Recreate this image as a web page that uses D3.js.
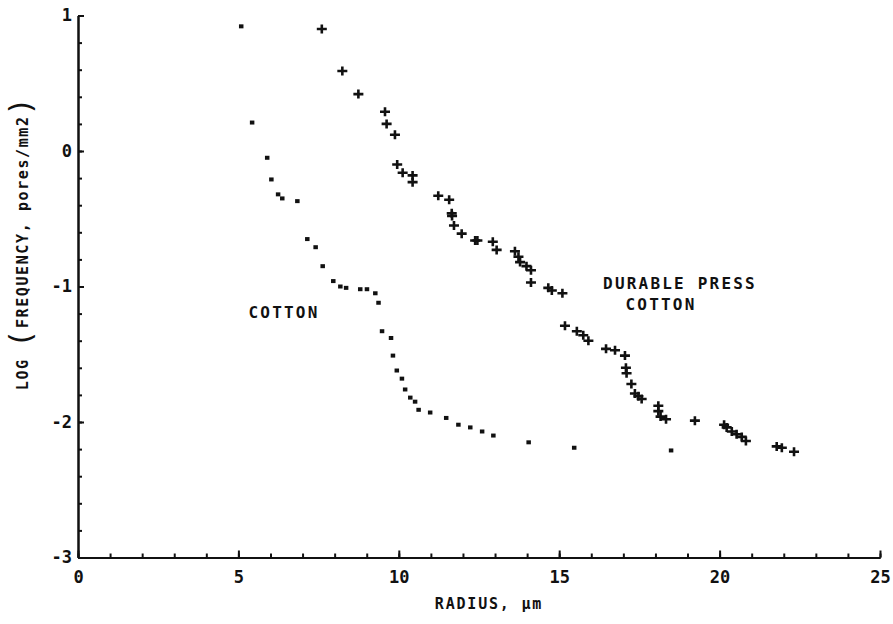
<!DOCTYPE html>
<html>
<head>
<meta charset="utf-8">
<script src="https://cdn.jsdelivr.net/npm/d3@7"></script>
<style>
  html, body { margin: 0; padding: 0; background: #fff; }
  text { font-family: "DejaVu Sans Mono", "Liberation Mono", monospace; fill: #111; }
</style>
</head>
<body>
<div id="chart"></div>
<script>
// data: radius (um) and log frequency
const cottonRadius = [5.08, 5.42, 5.89, 6.02, 6.23, 6.36, 6.83, 7.14, 7.40, 7.62, 7.95, 8.17,
  8.35, 8.79, 9.00, 9.26, 9.36, 9.47, 9.75, 9.81, 9.93, 10.09, 10.19, 10.35, 10.50, 10.61,
  10.97, 11.47, 11.85, 12.22, 12.59, 12.94, 14.04, 15.46, 18.48];
const cottonLogFreq = [0.92, 0.21, -0.05, -0.21, -0.32, -0.35, -0.37, -0.65, -0.71, -0.85, -0.96, -1.00,
  -1.01, -1.02, -1.02, -1.05, -1.12, -1.33, -1.38, -1.51, -1.62, -1.68, -1.76, -1.82, -1.85, -1.91,
  -1.93, -1.97, -2.02, -2.04, -2.07, -2.10, -2.15, -2.19, -2.21];

const dpRadius = [7.60, 8.24, 8.74, 9.57, 9.62, 9.88, 9.95, 10.12, 10.43, 10.43, 11.23, 11.57,
  11.65, 11.66, 11.72, 11.96, 12.38, 12.45, 12.93, 13.05, 13.62, 13.73, 13.78, 13.98, 14.12, 14.12,
  14.66, 14.77, 15.10, 15.18, 15.55, 15.75, 15.91, 16.46, 16.74, 17.05, 17.08, 17.10, 17.25, 17.36,
  17.47, 17.57, 18.09, 18.09, 18.16, 18.33, 19.23, 20.14, 20.22, 20.38, 20.53, 20.69, 20.82, 21.78,
  21.94, 22.32];
const dpLogFreq = [0.90, 0.59, 0.42, 0.29, 0.20, 0.12, -0.10, -0.16, -0.18, -0.23, -0.33, -0.36,
  -0.46, -0.48, -0.55, -0.61, -0.66, -0.66, -0.67, -0.73, -0.74, -0.78, -0.82, -0.85, -0.88, -0.97,
  -1.01, -1.03, -1.05, -1.29, -1.33, -1.36, -1.40, -1.46, -1.47, -1.51, -1.60, -1.64, -1.72, -1.79,
  -1.81, -1.83, -1.88, -1.92, -1.96, -1.98, -1.99, -2.02, -2.04, -2.07, -2.09, -2.11, -2.14, -2.18,
  -2.19, -2.22];

const xTicks = [0, 5, 10, 15, 20, 25];
const yTicks = [1, 0, -1, -2, -3];

const width = 893, height = 624;
const margin = { top: 15.5, right: 13, bottom: 66.5, left: 78 };
const w = width - margin.left - margin.right;
const h = height - margin.top - margin.bottom;

const svg = d3.select("#chart").append("svg")
  .attr("width", width)
  .attr("height", height);

const g = svg.append("g").attr("transform", `translate(${margin.left},${margin.top})`);

const x = d3.scaleLinear().domain([0, 25]).range([0, w]);
const y = d3.scaleLinear().domain([-3, 1]).range([h, 0]);

// minor ticks
g.append("g")
  .attr("transform", `translate(0,${h})`)
  .call(d3.axisBottom(x).tickValues(d3.range(0, 26, 1)).tickSize(-4).tickSizeOuter(0).tickFormat(""));
g.append("g")
  .call(d3.axisLeft(y).tickValues(d3.range(-3, 1.01, 0.2)).tickSize(-4).tickSizeOuter(0).tickFormat(""));

// major ticks and labels
const xAxis = g.append("g")
  .attr("transform", `translate(0,${h})`)
  .call(d3.axisBottom(x).tickValues(xTicks).tickSize(-7).tickSizeOuter(0).tickPadding(13).tickFormat(d3.format("d")));
const yAxis = g.append("g")
  .call(d3.axisLeft(y).tickValues(yTicks).tickSize(-6).tickSizeOuter(0).tickPadding(6).tickFormat(d => d < 0 ? "-" + Math.abs(d) : d));

g.selectAll(".domain").attr("stroke", "#111").attr("stroke-width", 2);
g.selectAll(".tick line").attr("stroke", "#111").attr("stroke-width", 2);
xAxis.selectAll("text").attr("font-size", 17).attr("font-weight", "bold");
yAxis.selectAll("text").attr("font-size", 17).attr("font-weight", "bold");

// cotton: small dots
g.selectAll(".cotton")
  .data(d3.zip(cottonRadius, cottonLogFreq))
  .enter().append("rect")
  .attr("class", "cotton")
  .attr("x", d => x(d[0]) - 2)
  .attr("y", d => y(d[1]) - 2)
  .attr("width", 4.5)
  .attr("height", 4)
  .attr("fill", "#111");

// durable press cotton: plus signs
g.selectAll(".dp")
  .data(d3.zip(dpRadius, dpLogFreq))
  .enter().append("path")
  .attr("class", "dp")
  .attr("transform", d => `translate(${x(d[0])},${y(d[1])})`)
  .attr("d", "M-5,0H5M0,-4.5V4.5")
  .attr("stroke", "#111")
  .attr("stroke-width", 2.6)
  .attr("fill", "none");

// annotations
const note = (tx, ty, label) => svg.append("text")
  .attr("x", tx).attr("y", ty)
  .attr("text-anchor", "middle")
  .attr("font-size", 16)
  .attr("font-weight", "bold")
  .attr("letter-spacing", 2.2)
  .text(label);
note(284, 318, "COTTON");
note(680, 289, "DURABLE PRESS");
note(661, 310, "COTTON");

// axis titles
svg.append("text")
  .attr("x", 489).attr("y", 609)
  .attr("text-anchor", "middle")
  .attr("font-size", 15)
  .attr("font-weight", "bold")
  .attr("letter-spacing", 1.8)
  .text("RADIUS, \u00b5m");

const yt = svg.append("text")
  .attr("transform", "translate(28,243) rotate(-90)")
  .attr("text-anchor", "middle")
  .attr("font-size", 15)
  .attr("font-weight", "bold")
  .attr("letter-spacing", 1.6);
yt.append("tspan").text("LOG ");
yt.append("tspan").attr("font-size", 30).attr("font-weight", "normal").attr("dy", 3).text("(");
yt.append("tspan").attr("dy", -3).text("FREQUENCY, pores/mm2");
yt.append("tspan").attr("font-size", 30).attr("font-weight", "normal").attr("dy", 3).text(")");
</script>
</body>
</html>
